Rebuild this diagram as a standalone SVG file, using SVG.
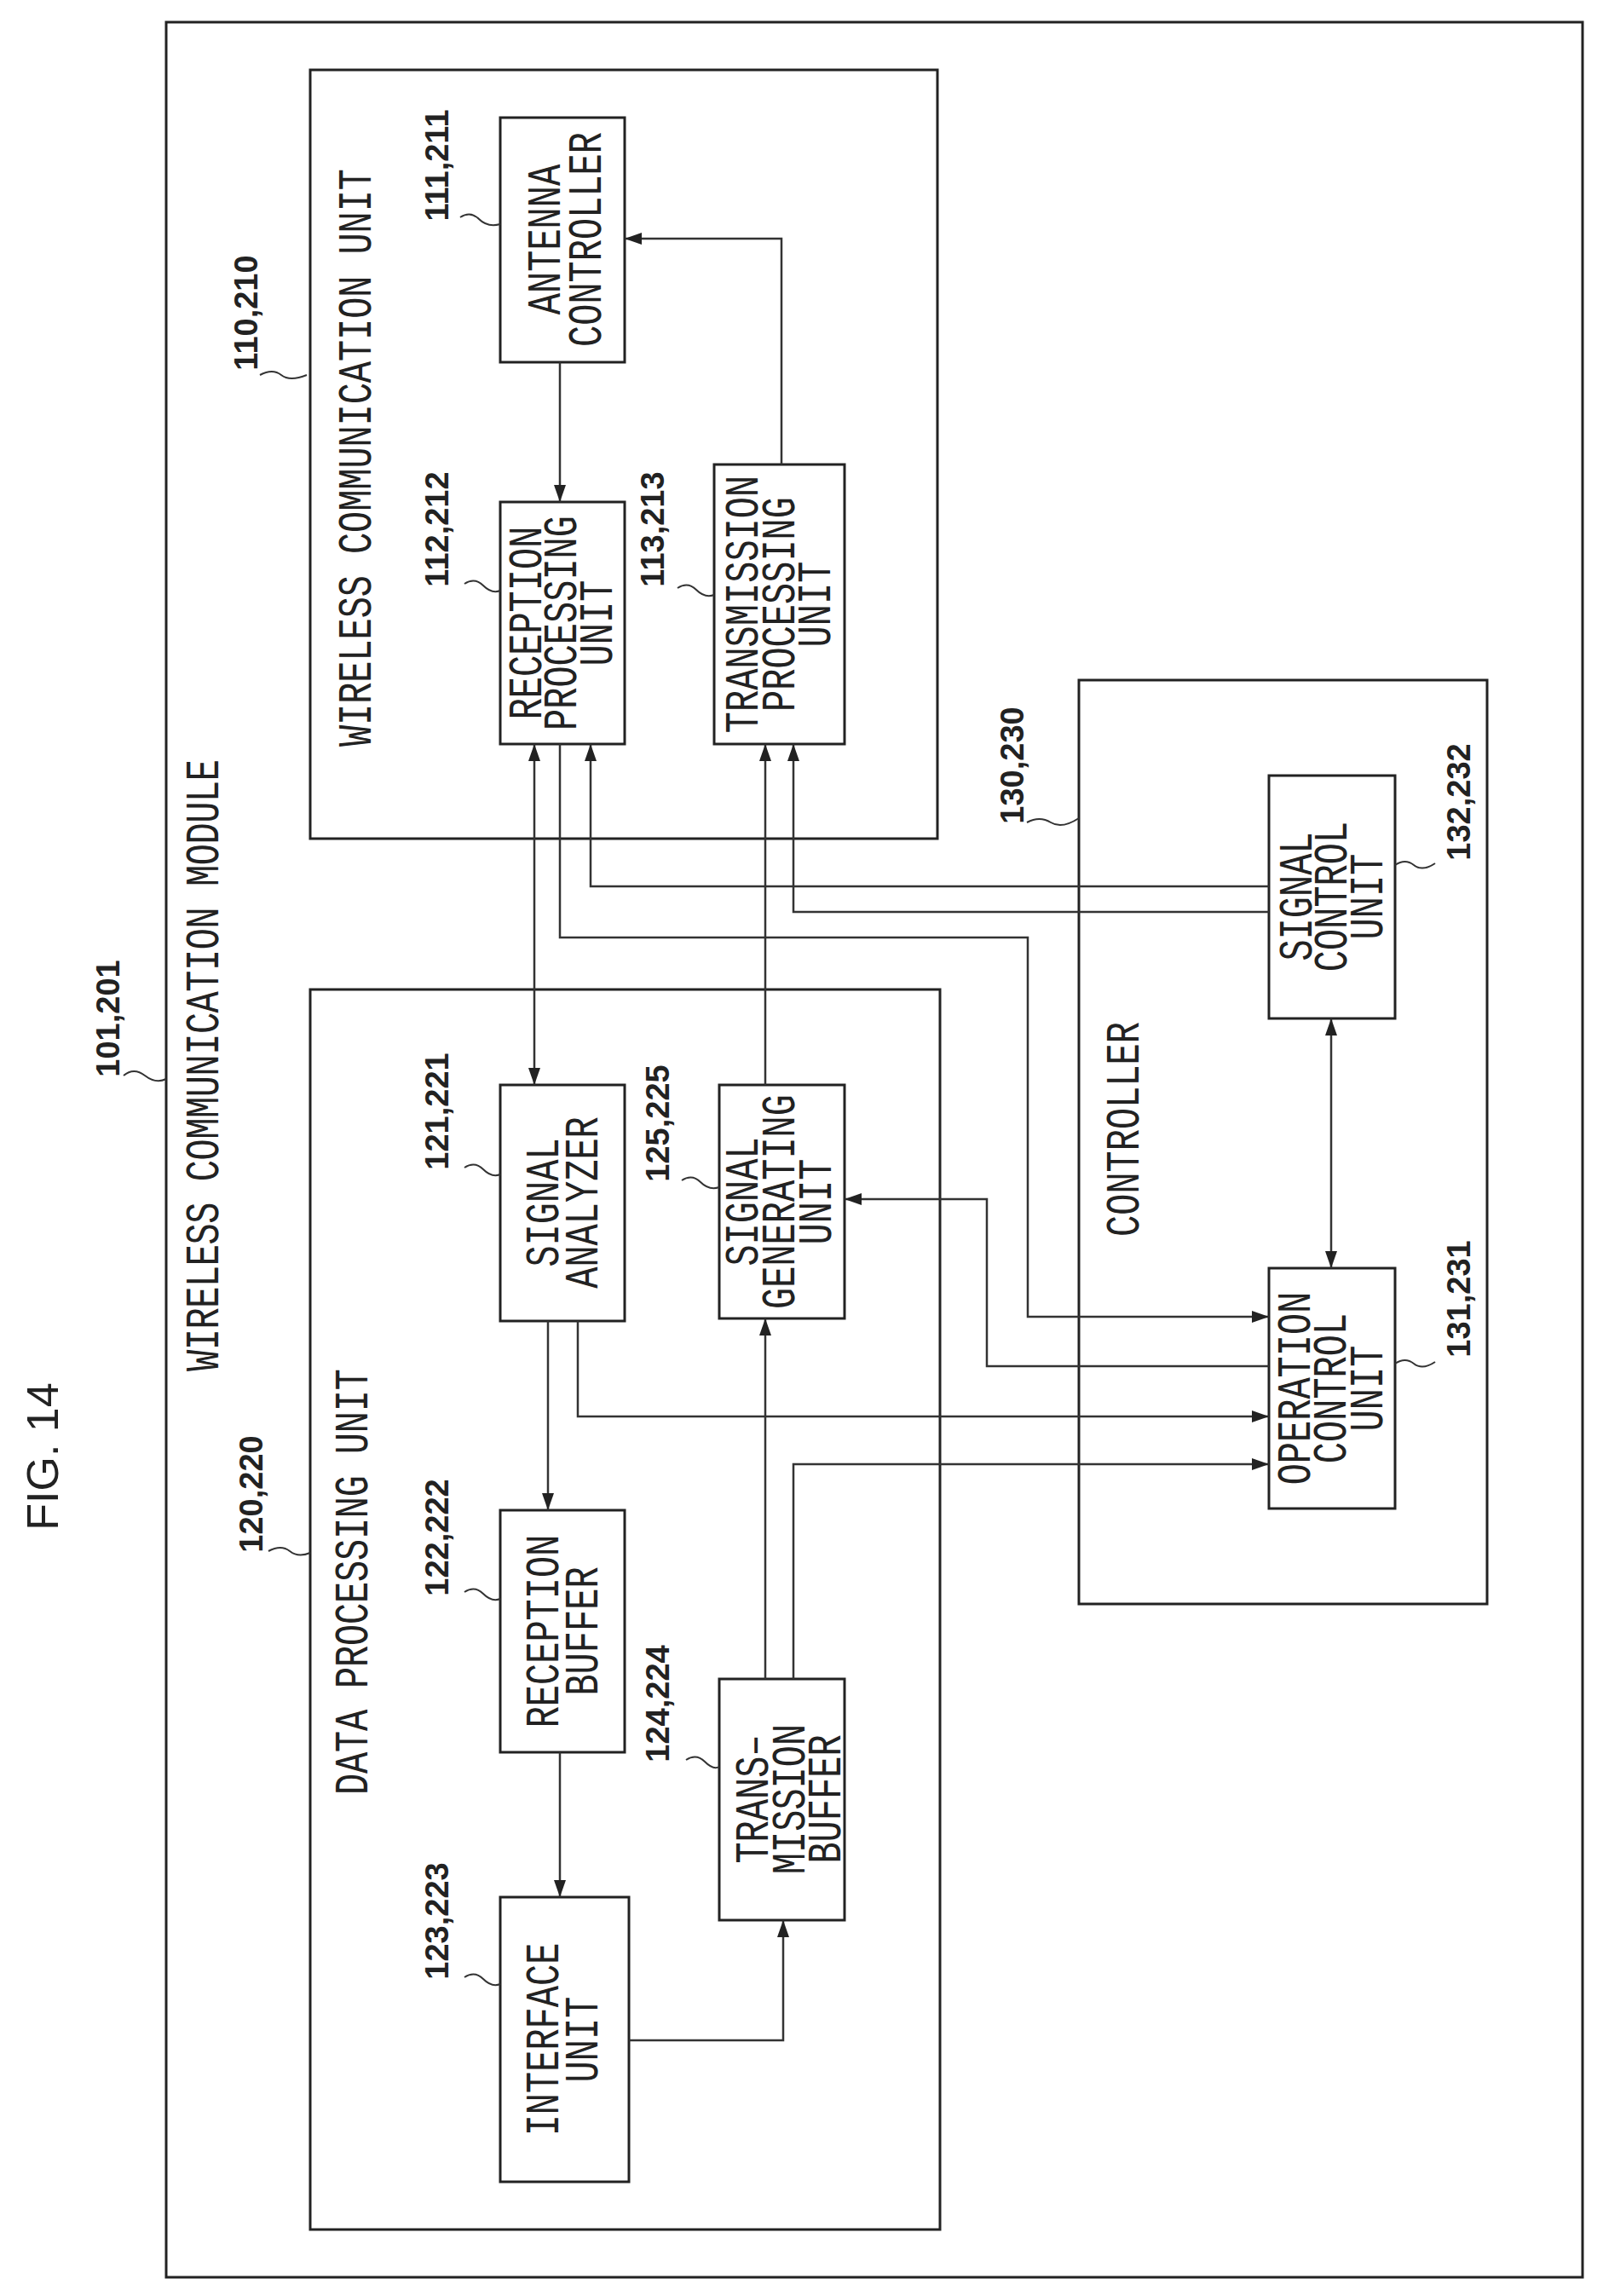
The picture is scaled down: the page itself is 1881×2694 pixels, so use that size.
<svg xmlns="http://www.w3.org/2000/svg" width="1881" height="2694" viewBox="0 0 1881 2694">
<style>
.box{fill:none;stroke:#222;stroke-width:3}
.c{fill:none;stroke:#333;stroke-width:2.5}
.ld{fill:none;stroke:#333;stroke-width:2}
.t{font-family:"Liberation Mono","DejaVu Sans Mono",monospace;font-size:42px;fill:#222;text-anchor:middle;dominant-baseline:central}
.n{font-family:"Liberation Sans",Arial,sans-serif;font-size:38px;font-weight:bold;fill:#222;text-anchor:middle;dominant-baseline:central}
.f{font-family:"Liberation Sans",Arial,sans-serif;font-size:52px;fill:#222;text-anchor:middle;dominant-baseline:central}
</style>
<defs>
<marker id="a" markerUnits="userSpaceOnUse" markerWidth="22" markerHeight="16" refX="20" refY="8" orient="auto-start-reverse"><path d="M0,1 L20,8 L0,15 Z" fill="#222"/></marker>
</defs>
<rect width="1881" height="2694" fill="#fff"/>
<text class="f" transform="translate(50,1709) rotate(-90)">FIG. 14</text>
<g id="module">
<rect class="box" x="195" y="26" width="1662" height="2646"/>
<text class="n" transform="translate(127,1195) rotate(-90)">101,201</text>
<path class="ld" d="M145,1262 q12,-10 25,0 t25,4"/>
<text class="t" transform="translate(241,1250) rotate(-90) scale(1,1.3)" textLength="718" lengthAdjust="spacing">WIRELESS COMMUNICATION MODULE</text>
</g>
<g id="wcu">
<rect class="box" x="364" y="82" width="736" height="902"/>
<text class="t" transform="translate(420,537) rotate(-90) scale(1,1.3)" textLength="678" lengthAdjust="spacing">WIRELESS COMMUNICATION UNIT</text>
<text class="n" transform="translate(289,367) rotate(-90)">110,210</text>
<path class="ld" d="M305,440 q15,-8 25,0 t30,0"/>
</g>
<g id="antenna">
<rect class="box" x="587" y="138" width="146" height="287"/>
<text class="t" transform="translate(642,281) rotate(-90) scale(1,1.3)">ANTENNA</text>
<text class="t" transform="translate(690,281) rotate(-90) scale(1,1.3)">CONTROLLER</text>
<text class="n" transform="translate(513,194) rotate(-90)">111,211</text>
<path class="ld" d="M540,255 q12,-8 22,2 t25,6"/>
</g>
<g id="rxproc">
<rect class="box" x="587" y="589" width="146" height="284"/>
<text class="t" transform="translate(620,731) rotate(-90) scale(1,1.3)">RECEPTION</text>
<text class="t" transform="translate(661,731) rotate(-90) scale(1,1.3)">PROCESSING</text>
<text class="t" transform="translate(703,731) rotate(-90) scale(1,1.3)">UNIT</text>
<text class="n" transform="translate(513,621) rotate(-90)">112,212</text>
<path class="ld" d="M545,685 q12,-8 22,2 t20,6"/>
</g>
<g id="txproc">
<rect class="box" x="838" y="545" width="153" height="328"/>
<text class="t" transform="translate(874,709) rotate(-90) scale(1,1.3)">TRANSMISSION</text>
<text class="t" transform="translate(917,709) rotate(-90) scale(1,1.3)">PROCESSING</text>
<text class="t" transform="translate(959,709) rotate(-90) scale(1,1.3)">UNIT</text>
<text class="n" transform="translate(766,621) rotate(-90)">113,213</text>
<path class="ld" d="M795,690 q12,-8 22,2 t21,6"/>
</g>
<g id="ctrl">
<rect class="box" x="1266" y="798" width="479" height="1084"/>
<text class="t" transform="translate(1321,1325) rotate(-90) scale(1,1.3)">CONTROLLER</text>
<text class="n" transform="translate(1188,898) rotate(-90)">130,230</text>
<path class="ld" d="M1205,965 q15,-8 28,0 t33,-5"/>
</g>
<g id="sigctrl">
<rect class="box" x="1489" y="910" width="148" height="285"/>
<text class="t" transform="translate(1524,1052) rotate(-90) scale(1,1.3)">SIGNAL</text>
<text class="t" transform="translate(1565,1052) rotate(-90) scale(1,1.3)">CONTROL</text>
<text class="t" transform="translate(1607,1052) rotate(-90) scale(1,1.3)">UNIT</text>
<text class="n" transform="translate(1712,941) rotate(-90)">132,232</text>
<path class="ld" d="M1637,1015 q12,-8 22,0 t25,-2"/>
</g>
<g id="opctrl">
<rect class="box" x="1489" y="1488" width="148" height="282"/>
<text class="t" transform="translate(1522,1629) rotate(-90) scale(1,1.3)">OPERATION</text>
<text class="t" transform="translate(1564,1629) rotate(-90) scale(1,1.3)">CONTROL</text>
<text class="t" transform="translate(1607,1629) rotate(-90) scale(1,1.3)">UNIT</text>
<text class="n" transform="translate(1712,1524) rotate(-90)">131,231</text>
<path class="ld" d="M1637,1600 q12,-8 22,0 t25,-2"/>
</g>
<g id="dpu">
<rect class="box" x="364" y="1161" width="739" height="1455"/>
<text class="t" transform="translate(416,1856) rotate(-90) scale(1,1.3)" textLength="500" lengthAdjust="spacing">DATA PROCESSING UNIT</text>
<text class="n" transform="translate(295,1753) rotate(-90)">120,220</text>
<path class="ld" d="M315,1820 q15,-8 25,0 t24,2"/>
</g>
<g id="analyzer">
<rect class="box" x="587" y="1273" width="146" height="277"/>
<text class="t" transform="translate(640,1411) rotate(-90) scale(1,1.3)">SIGNAL</text>
<text class="t" transform="translate(686,1411) rotate(-90) scale(1,1.3)">ANALYZER</text>
<text class="n" transform="translate(513,1304) rotate(-90)">121,221</text>
<path class="ld" d="M545,1370 q12,-8 22,2 t20,6"/>
</g>
<g id="siggen">
<rect class="box" x="844" y="1273" width="147" height="274"/>
<text class="t" transform="translate(874,1410) rotate(-90) scale(1,1.3)">SIGNAL</text>
<text class="t" transform="translate(917,1410) rotate(-90) scale(1,1.3)">GENERATING</text>
<text class="t" transform="translate(960,1410) rotate(-90) scale(1,1.3)">UNIT</text>
<text class="n" transform="translate(772,1318) rotate(-90)">125,225</text>
<path class="ld" d="M800,1385 q12,-8 22,2 t22,6"/>
</g>
<g id="rxbuf">
<rect class="box" x="587" y="1772" width="146" height="284"/>
<text class="t" transform="translate(640,1914) rotate(-90) scale(1,1.3)">RECEPTION</text>
<text class="t" transform="translate(686,1914) rotate(-90) scale(1,1.3)">BUFFER</text>
<text class="n" transform="translate(513,1804) rotate(-90)">122,222</text>
<path class="ld" d="M545,1868 q12,-8 22,2 t20,6"/>
</g>
<g id="txbuf">
<rect class="box" x="844" y="1970" width="147" height="283"/>
<text class="t" transform="translate(886,2111) rotate(-90) scale(1,1.3)">TRANS–</text>
<text class="t" transform="translate(929,2111) rotate(-90) scale(1,1.3)">MISSION</text>
<text class="t" transform="translate(971,2111) rotate(-90) scale(1,1.3)">BUFFER</text>
<text class="n" transform="translate(772,1999) rotate(-90)">124,224</text>
<path class="ld" d="M805,2065 q12,-8 22,2 t17,6"/>
</g>
<g id="iface">
<rect class="box" x="587" y="2226" width="151" height="334"/>
<text class="t" transform="translate(640,2393) rotate(-90) scale(1,1.3)">INTERFACE</text>
<text class="t" transform="translate(686,2393) rotate(-90) scale(1,1.3)">UNIT</text>
<text class="n" transform="translate(513,2254) rotate(-90)">123,223</text>
<path class="ld" d="M545,2320 q12,-8 22,2 t20,6"/>
</g>
<g id="connectors">
<path class="c" marker-end="url(#a)" d="M657,425 V589"/>
<path class="c" marker-end="url(#a)" d="M917,545 V280 H733"/>
<path class="c" marker-start="url(#a)" marker-end="url(#a)" d="M627,873 V1273"/>
<path class="c" marker-end="url(#a)" d="M1489,1040 H693 V873"/>
<path class="c" marker-end="url(#a)" d="M898,1273 V873"/>
<path class="c" marker-end="url(#a)" d="M1489,1070 H931 V873"/>
<path class="c" marker-end="url(#a)" d="M657,873 V1100 H1206 V1545 H1489"/>
<path class="c" marker-start="url(#a)" marker-end="url(#a)" d="M1562,1195 V1488"/>
<path class="c" marker-end="url(#a)" d="M1489,1603 H1158 V1407 H991"/>
<path class="c" marker-end="url(#a)" d="M678,1550 V1662 H1489"/>
<path class="c" marker-end="url(#a)" d="M643,1550 V1772"/>
<path class="c" marker-end="url(#a)" d="M657,2056 V2226"/>
<path class="c" marker-end="url(#a)" d="M738,2394 H919 V2253"/>
<path class="c" marker-end="url(#a)" d="M898,1970 V1547"/>
<path class="c" marker-end="url(#a)" d="M931,1970 V1718 H1489"/>
</g>
</svg>
